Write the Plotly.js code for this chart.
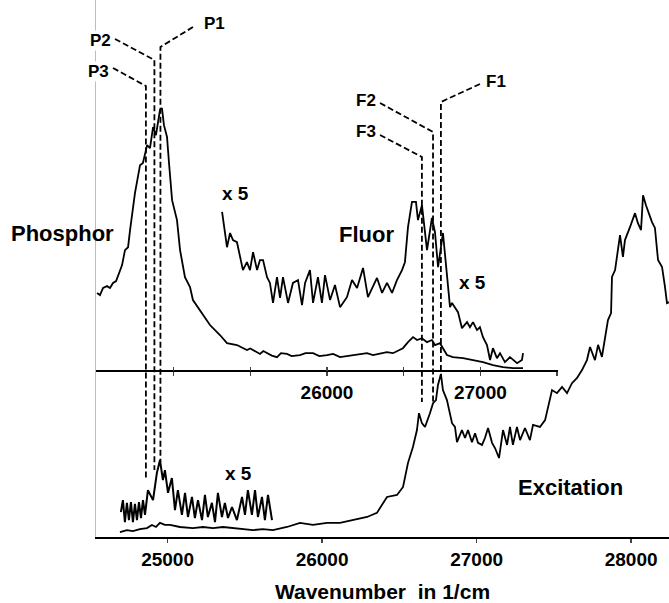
<!DOCTYPE html>
<html><head><meta charset="utf-8">
<script src="https://cdn.plot.ly/plotly-3.0.1.min.js"></script>
<style>html,body{margin:0;padding:0;background:#fff}</style>
</head><body><div id="chart" style="width:669px;height:603px"></div>
<script>
// ---------- DATA ----------
// Emission spectrum (Phosphor + Fluor), upper panel, relative intensity
const emWn = [24501,24520,24540,24566,24585,24605,24625,24644,24664,24683,24703,24716,24735,24748,24781,24800,24827,24846,24866,24885,
  24911,24924,24937,24957,24970,24990,25022,25042,25074,25107,25126,25172,25237,25302,25348,25413,25445,25478,25500,25518,
  25540,25563,25585,25609,25640,25674,25700,25739,25770,25824,25860,25909,25950,26000,26040,26085,26130,26169,26210,26261,
  26300,26346,26390,26430,26460,26495,26528,26561,26587,26619,26652,26684,26704,26737,26756,26782,26821,26887,26952,27017,
  27082,27147,27213,27278];
const emI = [29.7,28.9,31.6,32.3,31.6,33.5,34.2,36.9,40.3,46.0,47.1,53.6,61.2,67.7,78.3,79.1,85.9,84.8,92.8,89.7,
  99.2,100,93.5,89.0,79.1,65.0,57.4,46.0,35.7,31.9,27.0,23.2,17.5,13.7,10.6,9.9,9.1,8.0,8.6,8.0,
  7.2,6.5,7.6,6.8,5.9,5.3,6.8,6.5,5.7,6.1,6.8,6.8,5.7,6.1,6.5,5.3,5.7,6.1,6.5,6.8,
  6.1,6.8,7.2,6.8,7.6,8.7,11.0,12.9,11.8,12.5,11.0,11.8,9.9,10.6,8.7,6.1,5.3,4.9,4.2,3.4,
  2.3,1.5,1.1,1.1];
// Fluorescence region magnified x5
const flWn = [25316,25335,25348,25368,25387,25413,25433,25452,25478,25498,25518,25544,25563,25583,25609,25628,25648,25674,25694,25713,
  25746,25778,25811,25837,25857,25889,25909,25941,25967,25987,26020,26052,26085,26130,26163,26196,26235,26267,26326,26359,
  26391,26424,26456,26489,26508,26528,26554,26580,26593,26619,26652,26684,26704,26724,26756,26782,26802,26815,26854,26880,
  26913,26932,26952,26978,26997,27017,27043,27063,27082,27108,27128,27160,27193,27239,27271,27278];
const flI = [60.5,52.8,47.1,52.5,49.8,49.0,43.3,38.4,41.4,38.4,45.2,38.4,42.2,42.2,35.7,33.5,25.9,35.7,27.8,35.7,
  25.9,33.5,34.6,25.1,33.5,38.4,25.9,35.7,25.9,36.5,27.0,32.7,24.3,28.1,34.6,31.6,39.2,28.1,35.4,29.7,
  33.5,29.7,34.6,38.4,41.4,54.7,64.3,64.3,57.4,63.1,46.0,58.2,52.8,39.5,52.5,37.3,24.3,25.9,22.4,16.3,
  18.6,16.7,18.6,15.6,16.7,12.9,9.9,4.2,8.7,4.9,6.8,3.4,5.3,3.0,4.2,6.8];
// Excitation spectrum, lower panel
const exWn = [24692,24737,24776,24821,24867,24899,24925,24951,24983,25016,25080,25164,25229,25294,25359,25423,25488,25553,25617,25682,
  25773,25857,25941,26032,26116,26200,26291,26355,26375,26420,26485,26524,26556,26588,26614,26627,26646,26666,26698,26718,
  26737,26750,26769,26782,26808,26828,26841,26860,26873,26905,26925,26944,26970,26990,27009,27035,27054,27074,27100,27119,
  27145,27171,27197,27216,27235,27261,27281,27313,27345,27365,27410,27443,27462,27488,27520,27553,27585,27617,27650,27682,
  27714,27734,27766,27786,27811,27831,27850,27870,27876,27896,27915,27928,27947,27960,27993,28025,28044,28064,28077,28096,
  28135,28154,28174,28200,28219,28232,28245];
const exI = [1.4,2.0,1.7,2.3,2.6,3.5,2.9,4.1,3.5,3.5,2.9,2.6,2.9,2.6,2.9,2.6,2.3,2.0,2.3,2.0,
  2.9,4.1,3.5,4.1,4.1,4.9,5.8,7.0,8.4,11.6,12.2,14.5,21.5,26.1,31.0,35.9,33.0,31.9,35.9,38.8,
  39.7,44.1,47.3,42.6,39.7,35.9,33.0,31.9,27.5,31.0,28.7,31.0,27.5,30.1,27.3,26.7,28.7,31.6,27.3,25.8,
  22.9,31.0,26.7,31.9,26.7,31.9,28.1,31.6,28.1,32.5,31.9,33.9,37.7,42.6,41.7,43.5,41.7,44.6,46.1,48.4,
  51.3,55.1,51.3,55.7,52.2,58.0,62.9,64.9,75.4,77.4,84.1,87.5,81.2,86.1,89.9,93.9,91.0,89.0,99.1,96.2,
  91.3,89.6,80.3,78.3,72.5,67.8,68.1];
// Excitation, low-energy part magnified x5
const ex5Wn = [24698,24711,24724,24737,24750,24763,24776,24789,24802,24815,24828,24841,24854,24873,24906,24931,24951,24970,24983,25003,
  25028,25048,25067,25093,25113,25132,25158,25177,25197,25223,25242,25261,25287,25307,25326,25352,25371,25391,25417,25449,
  25482,25501,25520,25546,25566,25585,25611,25630,25650,25676];
const ex5I = [7.2,10.7,4.3,9.9,4.9,10.1,4.3,9.6,4.9,10.1,5.5,10.7,6.4,13.6,10.7,18.6,22.3,16.5,19.4,12.8,
  17.1,7.8,13.6,6.4,12.8,5.8,11.6,5.5,10.7,4.9,12.2,5.8,9.9,4.3,12.8,5.8,9.9,5.5,8.7,4.9,
  11.6,6.4,13.6,6.4,13.6,5.8,11.6,4.9,12.2,4.9];
// Marked transitions (wavenumbers)
const markNames = ['P1','P2','P3','F1','F2','F3'];
const markWn = [24954,24915,24860,26769,26718,26646];
// Tick values
const bottomTicks = [25000,26000,27000,28000];
const upperTicks = [25000,25500,26000,26500,27000,27500];
const upperTickText = ['','','26000','','27000',''];

// ---------- LAYOUT HELPERS ----------
const W=669,H=603,L=96,R=0,T=0,B=66;
const pw=W-L-R, ph=H-T-B;
const px = x => (x-L)/pw;
const py = y => (H-B-y)/ph;
const XR=[24537,28245], YR=[0,155.7];
const XR2=[24494,27506], YR2=[-63.1,141.1];
const wnAt = x => XR[0]+(x-L)/pw*(XR[1]-XR[0]);
const yAt = y => YR[0]+(H-B-y)/ph*(YR[1]-YR[0]);
const FF = 'Liberation Sans, Arial, sans-serif';
const bold = (s)=>({family:FF,size:s,color:'#000',weight:700});

// marker geometry (pixels): label-end of leader, top of vertical, bottom of vertical, label pos, anchor
const markGeo = [
  {lx:193,ly:27, top:47, bot:462, tx:203, ty:23, xa:'left'},
  {lx:115,ly:39, top:60, bot:470, tx:112, ty:40, xa:'right'},
  {lx:113,ly:68, top:86, bot:478, tx:110, ty:72, xa:'right'},
  {lx:480,ly:84, top:102, bot:378, tx:485, ty:81, xa:'left'},
  {lx:380,ly:103, top:132, bot:403, tx:377, ty:100, xa:'right'},
  {lx:380,ly:135, top:157, bot:402, tx:377, ty:131, xa:'right'}
];

const line = {color:'#000', width:1.8};
const traces = [
  {x:emWn, y:emI, xaxis:'x2', yaxis:'y2', mode:'lines', line:line, hoverinfo:'skip'},
  {x:flWn, y:flI, xaxis:'x3', yaxis:'y3', mode:'lines', line:line, hoverinfo:'skip'},
  {x:exWn, y:exI, xaxis:'x', yaxis:'y', mode:'lines', line:line, hoverinfo:'skip'},
  {x:ex5Wn, y:ex5I, xaxis:'x', yaxis:'y', mode:'lines', line:{color:'#000', width:2}, hoverinfo:'skip'}
];

const shapes = markWn.map((wn,i)=>{
  const g = markGeo[i];
  return {type:'path', xref:'x', yref:'y', layer:'above',
    path:`M ${wnAt(g.lx)},${yAt(g.ly)} L ${wn},${yAt(g.top)} L ${wn},${yAt(g.bot)}`,
    line:{color:'#000', width:1.8, dash:'6px,3px'}};
});

const ann = [];
markNames.forEach((n,i)=>{
  const g = markGeo[i];
  ann.push({text:n, xref:'paper', yref:'paper', x:px(g.tx), y:py(g.ty), xanchor:g.xa, yanchor:'middle',
    showarrow:false, font:bold(17), bgcolor: g.xa==='right' && i<3 ? '#fff' : 'rgba(0,0,0,0)', borderpad:0});
});
const labels = [
  ['Phosphor',62,233,22],['Fluor',366,234,22],['x 5',235,193,19],['x 5',472,283,19],['x 5',238,473,19],['Excitation',570,487,22]
];
labels.forEach(l=>ann.push({text:l[0], xref:'paper', yref:'paper', x:px(l[1]), y:py(l[2]), xanchor:'center', yanchor:'middle',
  showarrow:false, font:bold(l[3])}));

const layout = {
  width:W, height:H, margin:{l:L,r:R,t:T,b:B}, paper_bgcolor:'#fff', plot_bgcolor:'rgba(0,0,0,0)', showlegend:false,
  xaxis:{domain:[0,1], anchor:'y', range:XR, showline:true, linecolor:'#000', linewidth:2, ticks:'outside', ticklen:4, tickwidth:1.5,
    tickvals:bottomTicks, ticktext:bottomTicks.map(String), showgrid:false, zeroline:false, tickfont:bold(19),
    title:{text:'Wavenumber\u00a0 in 1/cm', font:bold(21), standoff:18}},
  yaxis:{domain:[0,1], anchor:'x', range:YR, showline:true, linecolor:'#bdbdbd', linewidth:1, showticklabels:false, ticks:'',
    showgrid:false, zeroline:false},
  xaxis2:{domain:[0,px(558)], anchor:'free', position:py(371), range:XR2, showline:true, linecolor:'#000', linewidth:2,
    ticks:'outside', ticklen:4, tickwidth:1.5, tickvals:upperTicks, ticktext:upperTickText, showgrid:false, zeroline:false, tickfont:bold(19)},
  yaxis2:{domain:[0,1], anchor:'x2', range:YR2, visible:false},
  xaxis3:{domain:[0,px(558)], anchor:'free', position:py(371), range:XR2, showline:false,
    ticks:'inside', ticklen:4, tickwidth:1.5, tickvals:upperTicks, showticklabels:false, showgrid:false, zeroline:false},
  yaxis3:{domain:[0,1], anchor:'x3', range:YR2, visible:false},
  shapes:shapes, annotations:ann
};
Plotly.newPlot('chart', traces, layout, {staticPlot:true, displayModeBar:false});
</script></body></html>
